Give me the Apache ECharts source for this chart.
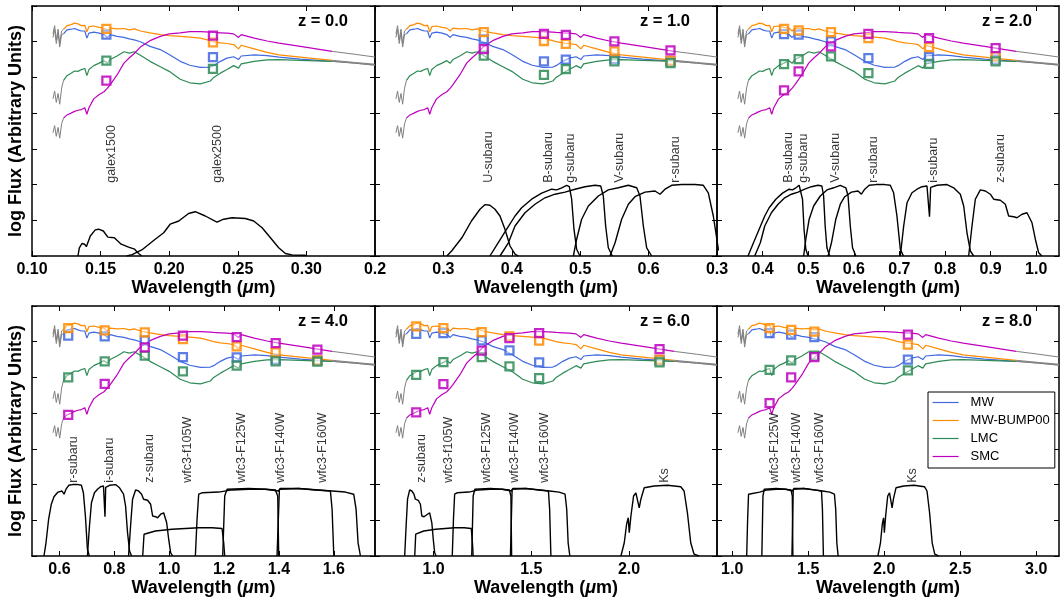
<!DOCTYPE html>
<html>
<head>
<meta charset="utf-8">
<script src="https://cdn.jsdelivr.net/npm/echarts@6/dist/echarts.min.js"></script>
<style>
  html, body { margin: 0; padding: 0; background: #fff; }
  #chart { width: 1060px; height: 603px; }
</style>
</head>
<body>
<div id="chart"></div>
<script>
// redshift of each panel
const redshifts = [0, 1, 2, 4, 6, 8];
const laws = ['MW', 'MW-BUMP00', 'LMC', 'SMC'];
const lawColors = ['#4169E1', '#FF8C00', '#2E8B57', '#BF00BF'];

const restLam = [0.123, 0.1255, 0.1285, 0.131, 0.1335, 0.136, 0.1385, 0.140, 0.1415, 0.145, 0.149, 0.1525,
  0.155, 0.157, 0.162, 0.167, 0.171, 0.1745, 0.179, 0.186, 0.1935, 0.2, 0.208, 0.215, 0.2227, 0.23, 0.2324,
  0.2373, 0.2421, 0.247, 0.2505, 0.2525, 0.262, 0.2713, 0.28, 0.2956, 0.3187];
const fluxMW = [6.22, 6.33, 6.35, 6.37, 6.33, 6.30, 6.30, 6.10, 6.24, 6.27, 6.24, 6.20,
  6.12, 6.20, 6.15, 6.12, 6.08, 6.05, 6.00, 5.87, 5.78, 5.64, 5.45, 5.34, 5.28, 5.29, 5.33,
  5.45, 5.54, 5.58, 5.50, 5.60, 5.63, 5.61, 5.57, 5.51, 5.45];
const fluxBump = [6.35, 6.45, 6.48, 6.52, 6.50, 6.45, 6.46, 6.28, 6.42, 6.44, 6.40, 6.38,
  6.30, 6.38, 6.36, 6.37, 6.33, 6.36, 6.30, 6.25, 6.20, 6.17, 6.15, 6.13, 6.10, 6.03, 6.00,
  5.97, 5.95, 5.92, 5.80, 5.90, 5.80, 5.70, 5.63, 5.57, 5.48];
const fluxLMC = [4.92, 5.05, 5.12, 5.18, 5.17, 5.22, 5.25, 5.05, 5.22, 5.33, 5.40, 5.47,
  5.40, 5.50, 5.60, 5.72, 5.68, 5.72, 5.62, 5.45, 5.30, 5.17, 4.95, 4.85, 4.82, 4.90, 5.00,
  5.12, 5.22, 5.33, 5.26, 5.38, 5.45, 5.49, 5.50, 5.48, 5.45];
const fluxSMC = [3.86, 3.95, 4.00, 4.05, 4.08, 4.10, 4.15, 3.97, 4.15, 4.40, 4.52, 4.60,
  4.70, 4.80, 5.07, 5.40, 5.55, 5.67, 5.85, 6.03, 6.15, 6.22, 6.25, 6.28, 6.28, 6.27, 6.26,
  6.25, 6.24, 6.22, 6.12, 6.20, 6.10, 6.02, 5.96, 5.87, 5.73];

// grey parts of the SED (short-wavelength absorption and long-wavelength tail)
const wigLam = [0.1153, 0.1165, 0.1177, 0.119, 0.1202, 0.1216, 0.123];
const wigMW = [6.12, 6.35, 5.95, 6.25, 5.85, 6.20, 6.22];
const wigBump = [6.22, 6.45, 6.05, 6.35, 5.95, 6.30, 6.35];
const wigLMC = [4.40, 4.62, 4.30, 4.55, 4.25, 4.70, 4.92];
const wigSMC = [3.45, 3.65, 3.35, 3.60, 3.30, 3.70, 3.86];
const tailLam = [0.3187, 0.335, 0.35];
const tailMW = [5.45, 5.40, 5.35];
const tailBump = [5.48, 5.42, 5.37];
const tailLMC = [5.45, 5.40, 5.34];
const tailSMC = [5.73, 5.65, 5.57];

// filter effective wavelengths (observed, micron)
const filterLam = {
  'galex1500': 0.1542, 'galex2500': 0.2319, 'U-subaru': 0.359, 'B-subaru': 0.447, 'g-subaru': 0.479,
  'V-subaru': 0.550, 'r-subaru': 0.632, 'i-subaru': 0.765, 'z-subaru': 0.911, 'wfc3-f105W': 1.050,
  'wfc3-F125W': 1.246, 'wfc3-F140W': 1.388, 'wfc3-F160W': 1.540, 'Ks': 2.156
};

// filter transmission curves, [wavelength, plotted height]
const curveFUV = [[0.1335, 0], [0.1345, 0.23], [0.1364, 0.35], [0.1383, 0.33], [0.1396, 0.26], [0.1425, 0.56],
  [0.1461, 0.73], [0.1485, 0.75], [0.152, 0.70], [0.1553, 0.53], [0.160, 0.51], [0.165, 0.33], [0.1704, 0.25],
  [0.1748, 0.19], [0.1777, 0.07], [0.180, 0]];
const curveNUV = [[0.169, 0], [0.173, 0.04], [0.180, 0.17], [0.1898, 0.47], [0.196, 0.65], [0.2007, 0.89],
  [0.207, 0.98], [0.2141, 1.19], [0.219, 1.24], [0.2263, 1.12], [0.2348, 0.95], [0.2397, 1.03], [0.2458, 1.07],
  [0.2555, 1.05], [0.2616, 0.98], [0.2677, 0.79], [0.2738, 0.51], [0.2798, 0.23], [0.2847, 0.07], [0.2895, 0.03],
  [0.2992, 0.02], [0.30, 0]];
const curveU = [[0.305, 0], [0.312, 0.14], [0.327, 0.51], [0.341, 0.98], [0.3535, 1.31], [0.361, 1.44],
  [0.368, 1.42], [0.3754, 1.31], [0.3827, 1.12], [0.390, 0.75], [0.3974, 0.28], [0.4047, 0.05], [0.4096, 0]];
const curveB = [[0.368, 0], [0.380, 0.37], [0.3925, 0.75], [0.4047, 1.12], [0.4144, 1.35], [0.429, 1.59],
  [0.4437, 1.76], [0.4583, 1.87], [0.4656, 1.85], [0.473, 1.91], [0.4802, 1.98], [0.4841, 1.94], [0.4875, 1.59],
  [0.4909, 0.75], [0.4948, 0.19], [0.4997, 0]];
const curveG = [[0.3827, 0], [0.395, 0.37], [0.4047, 0.84], [0.4193, 1.21], [0.4339, 1.45], [0.4485, 1.63],
  [0.4632, 1.73], [0.4778, 1.79], [0.4924, 1.87], [0.507, 1.94], [0.5216, 1.98], [0.530, 1.96], [0.5338, 1.68],
  [0.5372, 0.84], [0.5411, 0.23], [0.547, 0]];
const curveV = [[0.49, 0], [0.4948, 0.47], [0.5021, 1.03], [0.5119, 1.40], [0.5265, 1.68], [0.5411, 1.85],
  [0.5558, 1.91], [0.5704, 1.98], [0.5826, 1.91], [0.5874, 1.68], [0.5923, 0.84], [0.5972, 0.23], [0.6045, 0]];
const curveR = [[0.5436, 0], [0.551, 0.37], [0.5606, 1.03], [0.5704, 1.45], [0.5801, 1.66], [0.5947, 1.79],
  [0.6094, 1.82], [0.6167, 1.73], [0.624, 1.87], [0.6337, 1.98], [0.6483, 2.0], [0.6678, 2.0], [0.68, 1.98],
  [0.6873, 1.77], [0.6946, 1.12], [0.702, 0.19], [0.709, 0]];
const curveI = [[0.702, 0], [0.7094, 0.84], [0.7167, 1.49], [0.7276, 1.77], [0.7386, 1.87], [0.7496, 1.94],
  [0.7605, 1.96], [0.7635, 1.94], [0.766, 1.10], [0.7685, 1.92], [0.7825, 1.98], [0.8044, 2.0], [0.819, 1.91],
  [0.8336, 1.73], [0.841, 1.40], [0.8482, 0.65], [0.8556, 0.14], [0.8629, 0]];
const curveZ = [[0.8519, 0], [0.8592, 0.84], [0.8665, 1.59], [0.8775, 1.85], [0.8885, 1.82], [0.8994, 1.73],
  [0.9067, 1.59], [0.9213, 1.56], [0.9323, 1.45], [0.9396, 1.12], [0.9506, 1.10], [0.9579, 1.07], [0.9689, 1.17],
  [0.9798, 1.21], [0.9908, 0.93], [0.9981, 0.47], [1.0054, 0.09], [1.0127, 0]];
const curveF105 = [[0.9034, 0], [0.9083, 0.61], [0.9131, 0.65], [0.9496, 0.70], [1.0103, 0.75], [1.0589, 0.77],
  [1.1075, 0.79], [1.156, 0.79], [1.1926, 0.77], [1.1986, 0.37], [1.2023, 0]];
const curveF125 = [[1.0954, 0], [1.1015, 1.03], [1.1075, 1.73], [1.1197, 1.77], [1.1804, 1.79], [1.229, 1.85],
  [1.2898, 1.87], [1.3505, 1.87], [1.387, 1.85], [1.3955, 1.68], [1.3991, 0]];
const curveF140 = [[1.195, 0], [1.2023, 1.68], [1.2108, 1.87], [1.2898, 1.89], [1.3505, 1.87], [1.3991, 1.82],
  [1.405, 1.89], [1.472, 1.89], [1.545, 1.85], [1.5875, 1.82], [1.5936, 1.31], [1.60, 0]];
const curveF160 = [[1.393, 0], [1.4016, 1.87], [1.472, 1.89], [1.5328, 1.85], [1.5936, 1.82], [1.642, 1.79],
  [1.6725, 1.73], [1.681, 1.31], [1.6883, 0.37], [1.697, 0]];
const curveKs = [[1.9585, 0], [1.9755, 0.37], [1.9874, 0.89], [1.9959, 1.07], [2.001, 0.65], [2.0095, 1.12],
  [2.0231, 1.68], [2.035, 1.77], [2.0435, 1.73], [2.052, 1.35], [2.0605, 1.59], [2.0776, 1.91], [2.1286, 1.96],
  [2.1966, 1.98], [2.2646, 1.94], [2.2816, 1.82], [2.2986, 1.21], [2.3156, 0.37], [2.3327, 0.05], [2.358, 0]];

// filters shown in each panel
const panelFilters = [
  ['galex1500', 'galex2500'],
  ['U-subaru', 'B-subaru', 'g-subaru', 'V-subaru', 'r-subaru'],
  ['B-subaru', 'g-subaru', 'V-subaru', 'r-subaru', 'i-subaru', 'z-subaru'],
  ['r-subaru', 'i-subaru', 'z-subaru', 'wfc3-f105W', 'wfc3-F125W', 'wfc3-F140W', 'wfc3-F160W'],
  ['z-subaru', 'wfc3-f105W', 'wfc3-F125W', 'wfc3-F140W', 'wfc3-F160W', 'Ks'],
  ['wfc3-F125W', 'wfc3-F140W', 'wfc3-F160W', 'Ks']
];

// band fluxes (square markers), one row per panel, same order as panelFilters
const markMW = [[6.20, 5.57], [6.07, 5.45, 5.50, 5.51, 5.45], [6.21, 6.20, 6.01, 5.54, 5.57, 5.50],
  [6.17, 6.15, 6.04, 5.57, 5.56, 5.50, 5.47], [6.22, 6.24, 6.04, 5.76, 5.42, 5.48], [6.24, 6.20, 6.13, 5.50]];
const markBump = [[6.36, 5.98], [6.27, 6.02, 5.94, 5.73, 5.47], [6.36, 6.32, 6.27, 6.10, 5.85, 5.59],
  [6.38, 6.32, 6.26, 6.07, 5.87, 5.70, 5.48], [6.43, 6.38, 6.27, 6.15, 6.03, 5.50], [6.38, 6.33, 6.28, 5.92]];
const markLMC = [[5.47, 5.24], [5.61, 5.07, 5.23, 5.45, 5.40], [5.37, 5.51, 5.59, 5.12, 5.38, 5.45],
  [5.00, 5.45, 5.61, 5.17, 5.33, 5.45, 5.44], [5.07, 5.43, 5.57, 5.31, 4.98, 5.42], [5.21, 5.48, 5.61, 5.20]];
const markSMC = [[4.91, 6.17], [5.79, 6.22, 6.19, 6.01, 5.76], [4.64, 5.17, 5.87, 6.22, 6.10, 5.82],
  [3.95, 4.82, 5.84, 6.17, 6.13, 5.96, 5.78], [4.02, 4.81, 5.75, 6.10, 6.24, 5.79], [4.28, 5.00, 5.57, 6.20]];

// axes
const xMin = [0.1, 0.2, 0.3, 0.5, 0.7, 0.9];
const xMax = [0.35, 0.7, 1.05, 1.75, 2.45, 3.15];
const tickVals = [
  [0.10, 0.15, 0.20, 0.25, 0.30],
  [0.2, 0.3, 0.4, 0.5, 0.6],
  [0.3, 0.4, 0.5, 0.6, 0.7, 0.8, 0.9, 1.0],
  [0.6, 0.8, 1.0, 1.2, 1.4, 1.6],
  [1.0, 1.5, 2.0],
  [1.0, 1.5, 2.0, 2.5, 3.0]
];

const curves = {
  'galex1500': curveFUV, 'galex2500': curveNUV, 'U-subaru': curveU, 'B-subaru': curveB, 'g-subaru': curveG,
  'V-subaru': curveV, 'r-subaru': curveR, 'i-subaru': curveI, 'z-subaru': curveZ, 'wfc3-f105W': curveF105,
  'wfc3-F125W': curveF125, 'wfc3-F140W': curveF140, 'wfc3-F160W': curveF160, 'Ks': curveKs
};
const fluxes = [fluxMW, fluxBump, fluxLMC, fluxSMC];
const wigs = [wigMW, wigBump, wigLMC, wigSMC];
const tails = [tailMW, tailBump, tailLMC, tailSMC];
const marks = [markMW, markBump, markLMC, markSMC];

const FONT = '"Liberation Sans", Arial, sans-serif';
const gridLeft = [32, 375, 717];
const gridWidth = [343, 342, 342];
const gridTop = [6, 306];
const gridHeight = 250;

const chart = echarts.init(document.getElementById('chart'), null, { renderer: 'canvas' });

const grids = [], xAxes = [], yAxes = [], series = [], titles = [];
const frame = { show: true, onZero: false, lineStyle: { color: '#000', width: 1.5 } };
const tick = { show: true, inside: true, length: 5, lineStyle: { color: '#000', width: 1 } };

redshifts.forEach((z, p) => {
  const col = p % 3, row = Math.floor(p / 3);
  grids.push({
    left: gridLeft[col], top: gridTop[row], width: gridWidth[col], height: gridHeight,
    containLabel: false, outerBoundsMode: 'none'
  });
  const dec = p === 0 ? 2 : 1;
  xAxes.push({
    gridIndex: p, type: 'value', position: 'bottom', min: xMin[p], max: xMax[p],
    axisLine: frame,
    axisTick: Object.assign({}, tick, { customValues: tickVals[p] }),
    axisLabel: {
      customValues: tickVals[p], formatter: v => v.toFixed(dec), margin: 6,
      color: '#000', fontSize: 16, fontWeight: 'bold', fontFamily: FONT
    },
    splitLine: { show: false },
    name: '{a|Wavelength (}{m|μ}{a|m)}', nameLocation: 'middle', nameGap: 23,
    nameTextStyle: {
      rich: {
        a: { fontSize: 18, fontWeight: 'bold', fontFamily: FONT, color: '#000' },
        m: { fontSize: 18, fontStyle: 'italic', fontWeight: 'bold', fontFamily: FONT, color: '#000' }
      }
    }
  });
  xAxes.push({
    gridIndex: p, type: 'value', position: 'top', min: xMin[p], max: xMax[p],
    axisLine: frame, axisTick: Object.assign({}, tick, { customValues: tickVals[p] }),
    axisLabel: { show: false }, splitLine: { show: false }
  });
  const yBase = {
    gridIndex: p, type: 'value', min: 0, max: 7, interval: 1,
    axisLine: frame, axisTick: tick, axisLabel: { show: false }, splitLine: { show: false }
  };
  yAxes.push(Object.assign({}, yBase, col === 0 ? {
    position: 'left', name: 'log Flux (Arbitrary Units)', nameLocation: 'middle', nameGap: 7,
    nameTextStyle: { fontSize: 18, fontWeight: 'bold', fontFamily: FONT, color: '#000' }
  } : { position: 'left' }));
  yAxes.push(Object.assign({}, yBase, { position: 'right' }));

  titles.push({
    text: 'z = ' + z.toFixed(1), padding: 0,
    right: 1060 - (gridLeft[col] + gridWidth[col]) + 27, top: gridTop[row] + 7,
    textStyle: { fontSize: 16.5, fontWeight: 'bold', fontFamily: FONT, color: '#000' }
  });

  const xi = 2 * p, yi = 2 * p;
  // filter transmission curves
  panelFilters[p].forEach(f => {
    series.push({
      type: 'line', xAxisIndex: xi, yAxisIndex: yi, data: curves[f], symbol: 'none',
      lineStyle: { color: '#000', width: 1.4 }, silent: true, z: 2
    });
  });
  // SEDs
  laws.forEach((law, k) => {
    const s = 1 + z;
    series.push({
      type: 'line', name: law + ' grey', xAxisIndex: xi, yAxisIndex: yi, symbol: 'none', silent: true, z: 3,
      data: wigLam.map((l, i) => [l * s, wigs[k][i]]), lineStyle: { color: '#808080', width: 1 }
    });
    series.push({
      type: 'line', name: law + ' tail', xAxisIndex: xi, yAxisIndex: yi, symbol: 'none', silent: true, z: 3,
      data: tailLam.map((l, i) => [l * s, tails[k][i]]), lineStyle: { color: '#808080', width: 1 }
    });
    series.push({
      type: 'line', name: law, xAxisIndex: xi, yAxisIndex: yi, symbol: 'none', silent: true, z: 4,
      data: restLam.map((l, i) => [l * s, fluxes[k][i]]), lineStyle: { color: lawColors[k], width: 1.2 },
      itemStyle: { color: lawColors[k] }
    });
  });
  laws.forEach((law, k) => {
    series.push({
      type: 'scatter', name: law + ' band', xAxisIndex: xi, yAxisIndex: yi, silent: true, z: 5,
      symbol: 'rect', symbolSize: 8,
      data: panelFilters[p].map((f, i) => [filterLam[f], marks[k][p][i]]),
      itemStyle: { color: 'rgba(255,255,255,0.5)', borderColor: lawColors[k], borderWidth: 2.3, opacity: 0.85 }
    });
  });
  // filter names
  series.push({
    type: 'scatter', name: 'labels', xAxisIndex: xi, yAxisIndex: yi, silent: true, z: 6,
    symbol: 'rect', symbolSize: 1, itemStyle: { color: 'rgba(0,0,0,0)' },
    data: panelFilters[p].map(f => [filterLam[f], 2.05, f]),
    label: {
      show: true, formatter: d => d.data[2], rotate: 90, position: [5.5, 0.5],
      align: 'left', verticalAlign: 'middle', fontSize: 12.5, fontFamily: FONT, color: '#000'
    }
  });
});

chart.setOption({
  animation: false,
  backgroundColor: '#fff',
  title: titles,
  grid: grids,
  xAxis: xAxes,
  yAxis: yAxes,
  legend: {
    data: laws, orient: 'vertical', left: 928, top: 392, selectedMode: false,
    itemWidth: 26, itemHeight: 14, itemGap: 5,
    itemStyle: { opacity: 0 },
    lineStyle: { width: 1.2 },
    padding: [4, 5, 5, 4], borderColor: '#000', borderWidth: 1, borderRadius: 0, backgroundColor: '#fff',
    textStyle: { fontSize: 13, fontFamily: FONT, color: '#000', padding: [0, 0, 0, 7] }
  },
  series: series
});
</script>
</body>
</html>
